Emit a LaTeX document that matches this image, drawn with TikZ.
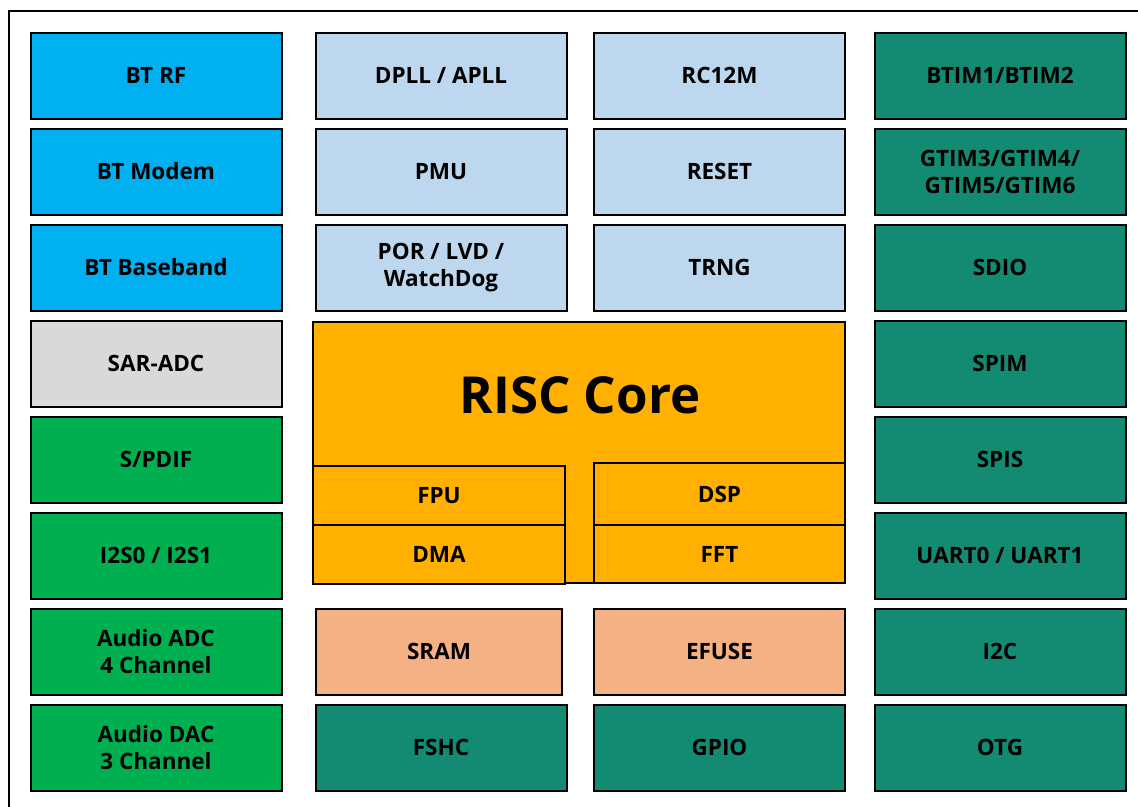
\documentclass[tikz,border=0pt]{standalone}
\usepackage{fontspec}
\setmainfont{Open Sans}
\usetikzlibrary{positioning}
\definecolor{btblue}{RGB}{0,176,240}
\definecolor{pale}{RGB}{189,215,238}
\definecolor{adcgray}{RGB}{217,217,217}
\definecolor{audgreen}{RGB}{0,176,80}
\definecolor{teal}{RGB}{19,138,114}
\definecolor{coreor}{RGB}{255,176,0}
\definecolor{memsal}{RGB}{244,177,131}
\tikzset{
  blk/.style={draw, line width=2pt, minimum width=251pt, minimum height=86pt,
    inner sep=0pt, align=center, font=\fontsize{22.5}{27}\selectfont\bfseries},
  sub/.style={blk, fill=coreor, minimum height=59pt}
}

\begin{document}
\begin{tikzpicture}[x=1pt,y=-1pt]
\useasboundingbox (0,0) rectangle (1138,806);
\clip (0,0) rectangle (1138,806);
\fill [white] (0,0) rectangle (1138,806);
% Frame
\draw [line width=2pt] (9,11) rectangle (1170,840);
%
% Bluetooth
\node [blk, fill=btblue] (btrf) at (156,75.5) {BT RF};
\node [blk, fill=btblue] (btmodem) at (156,171.5) {BT Modem};
\node [blk, fill=btblue] (btbase) at (156,267.5) {BT Baseband};
% ADC
\node [blk, fill=adcgray] (saradc) at (156,363.5) {SAR-ADC};
% Audio
\node [blk, fill=audgreen] (spdif) at (156,459.5) {S/PDIF};
\node [blk, fill=audgreen] (iis) at (156,555.5) {I2S0 / I2S1};
\node [blk, fill=audgreen] (audadc) at (156,651.5) {Audio ADC\\4 Channel};
\node [blk, fill=audgreen] (auddac) at (156,747.5) {Audio DAC\\3 Channel};
%
% Clock and power
\node [blk, fill=pale] (pll) at (441,75.5) {DPLL / APLL};
\node [blk, fill=pale] (pmu) at (441,171.5) {PMU};
\node [blk, fill=pale] (por) at (441,267.5) {POR / LVD /\\WatchDog};
\node [blk, fill=pale] (rc) at (719.5,75.5) {RC12M};
\node [blk, fill=pale] (reset) at (719.5,171.5) {RESET};
\node [blk, fill=pale] (trng) at (719.5,267.5) {TRNG};
%
% Core
\node [blk, fill=coreor, minimum width=532pt, minimum height=261pt] (core) at (579,452.5) {};
\node [font=\fontsize{51}{60}\selectfont\bfseries] (risc) at (580,395) {RISC Core};
% FPU / DMA
\node [sub, minimum width=252pt] (fpu) at (439,495.5) {FPU};
\node [sub, minimum width=252pt] (dma) at (439,554) {DMA};
% DSP / FFT
\node [sub, minimum height=62pt] (dsp) at (719.5,494) {DSP};
\node [sub, minimum height=58pt] (fft) at (719.5,554) {FFT};
%
% Memory
\node [blk, fill=memsal, minimum width=246pt] (sram) at (439,651.5) {SRAM};
\node [blk, fill=memsal] (efuse) at (719.5,651.5) {EFUSE};
\node [blk, fill=teal] (fshc) at (441,747.5) {FSHC};
\node [blk, fill=teal] (gpio) at (719.5,747.5) {GPIO};
%
% Peripherals
\node [blk, fill=teal] (btim) at (1000,75.5) {BTIM1/BTIM2};
\node [blk, fill=teal] (gtim) at (1000,171.5) {GTIM3/GTIM4/\\GTIM5/GTIM6};
\node [blk, fill=teal] (sdio) at (1000,267.5) {SDIO};
\node [blk, fill=teal] (spim) at (1000,363.5) {SPIM};
\node [blk, fill=teal] (spis) at (1000,459.5) {SPIS};
\node [blk, fill=teal] (uart) at (1000,555.5) {UART0 / UART1};
\node [blk, fill=teal] (iic) at (1000,651.5) {I2C};
\node [blk, fill=teal] (otg) at (1000,747.5) {OTG};
\end{tikzpicture}
\end{document}
